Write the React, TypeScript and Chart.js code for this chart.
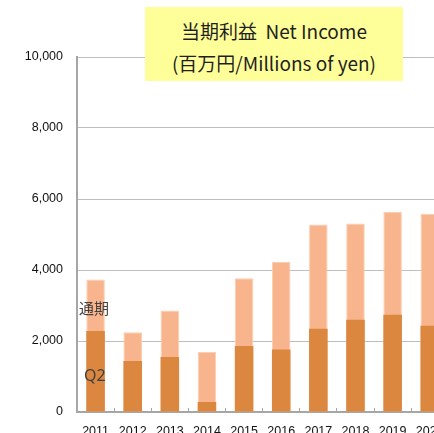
import React, { useEffect, useRef } from "react";
import { Chart, registerables } from "chart.js";

Chart.register(...registerables);

const categories = ["2011", "2012", "2013", "2014", "2015", "2016", "2017", "2018", "2019", "2020"];
const q2Values = [2280, 1440, 1550, 280, 1860, 1760, 2345, 2600, 2740, 2430];
const fullYearValues = [3730, 2245, 2860, 1690, 3770, 4235, 5280, 5310, 5640, 5585];
const yTickMin = 0;
const yTickMax = 10000;
const yTickStep = 2000;

const titleLine1 = "当期利益  Net Income";
const titleLine2 = "(百万円/Millions of yen)";
const fullLabel = "通期";
const q2Label = "Q2";

const CANVAS_W = 460;
const CANVAS_H = 460;

export default function App() {
  const ref = useRef<HTMLCanvasElement | null>(null);

  useEffect(() => {
    if (!ref.current) return;
    const chart = new Chart(ref.current, {
      type: "bar",
      data: {
        labels: categories,
        datasets: [
          {
            label: q2Label,
            data: q2Values,
            backgroundColor: "#DB873F",
            borderWidth: 0,
            grouped: false,
            barPercentage: 0.5,
            categoryPercentage: 1,
          } as any,
          {
            label: fullLabel,
            data: fullYearValues,
            backgroundColor: "#F8B58D",
            borderColor: "#FCCDB2",
            borderWidth: 1,
            grouped: false,
            barPercentage: 0.5,
            categoryPercentage: 1,
          } as any,
        ],
      },
      options: {
        responsive: false,
        animation: false,
        devicePixelRatio: 1,
        layout: { padding: { left: 0, top: 57, right: 7, bottom: 0 } },
        plugins: {
          legend: { display: false },
          title: { display: false },
          tooltip: { enabled: false },
        },
        scales: {
          x: {
            offset: true,
            grid: {
              display: true,
              drawOnChartArea: false,
              drawTicks: true,
              tickLength: -4,
              color: "#A6A6A6",
              offset: true,
            },
            border: { display: true, color: "#A6A6A6", width: 2 },
            ticks: {
              padding: 16,
              color: "#111111",
              font: { family: "'Liberation Sans', Arial, sans-serif", size: 12.5 },
              maxRotation: 0,
              autoSkip: false,
            },
            afterFit: (scale: any) => {
              scale.height = CANVAS_H - 412;
            },
          },
          y: {
            min: yTickMin,
            max: yTickMax,
            grid: {
              color: "#BFBFBF",
              lineWidth: 1,
              drawTicks: false,
            },
            border: { display: true, color: "#A6A6A6", width: 2 },
            ticks: {
              stepSize: yTickStep,
              padding: 14,
              color: "#111111",
              font: { family: "'Liberation Sans', Arial, sans-serif", size: 12.5 },
            },
            afterFit: (scale: any) => {
              scale.width = 77;
            },
          },
        },
      },
    });
    return () => chart.destroy();
  }, []);

  return (
    <div
      style={{
        position: "fixed",
        left: 0,
        top: 0,
        width: 434,
        height: 433,
        overflow: "hidden",
        background: "#ffffff",
      }}
    >
      <canvas
        ref={ref}
        width={CANVAS_W}
        height={CANVAS_H}
        style={{ position: "absolute", left: 0, top: 0, width: CANVAS_W, height: CANVAS_H }}
      />
      <div
        style={{
          position: "absolute",
          left: 145,
          top: 7,
          width: 258,
          height: 74,
          background: "#FFFF99",
          boxSizing: "border-box",
          paddingTop: 8,
          textAlign: "center",
          fontFamily: "'Noto Sans CJK JP', 'Noto Sans', sans-serif",
          fontSize: 19,
          lineHeight: "32px",
          color: "#1F1F1F",
          whiteSpace: "pre",
        }}
      >
        <div>{titleLine1}</div>
        <div>{titleLine2}</div>
      </div>
      <div
        style={{
          position: "absolute",
          left: 79,
          top: 298,
          fontFamily: "'Noto Sans CJK JP', 'Noto Sans', sans-serif",
          fontSize: 15,
          lineHeight: "20px",
          color: "#404040",
        }}
      >
        {fullLabel}
      </div>
      <div
        style={{
          position: "absolute",
          left: 84,
          top: 364,
          fontFamily: "'Noto Sans', sans-serif",
          fontSize: 16,
          lineHeight: "22px",
          color: "#404040",
        }}
      >
        {q2Label}
      </div>
    </div>
  );
}
